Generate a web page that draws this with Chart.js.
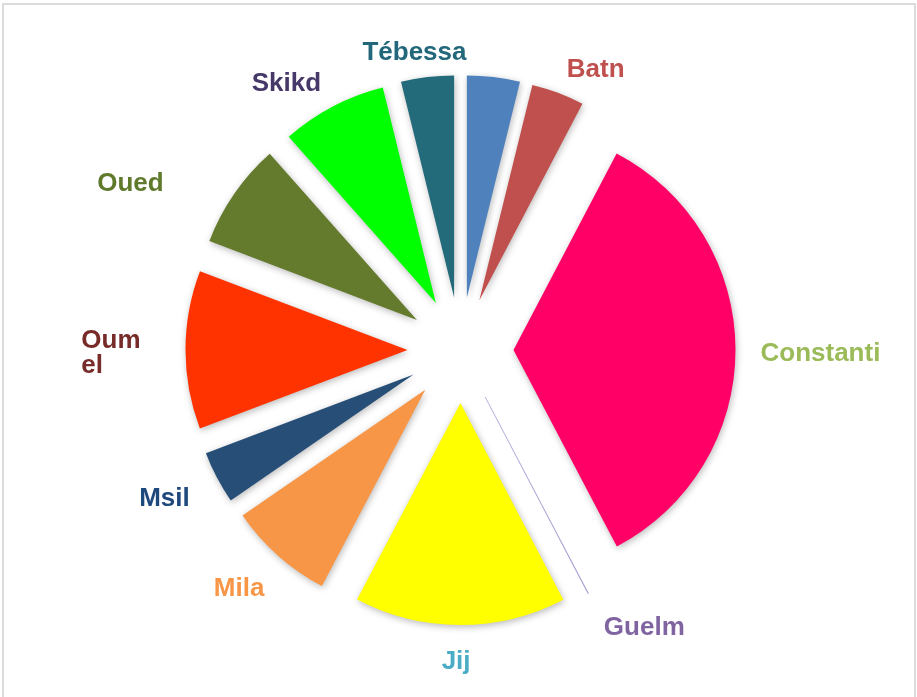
<!DOCTYPE html>
<html>
<head>
<meta charset="utf-8">
<script src="https://cdn.jsdelivr.net/npm/chart.js@4.4.1/dist/chart.umd.min.js"></script>
<style>
  html, body { margin: 0; padding: 0; background: #fff; }
  #wrap { width: 917px; height: 697px; }
</style>
</head>
<body>
<div id="wrap"><canvas id="myChart" width="917" height="697"></canvas></div>
<script>
// categories clockwise from 12 o'clock (first slice has no visible label)
const categories = ['', 'Batn', 'Constanti', 'Guelm', 'Jij', 'Mila', 'Msil', ['Oum', 'el'], 'Oued', 'Skikd', 'Tébessa'];
// counts (Guelm is a near-zero sliver)
const counts = [1, 1, 9, 0.01, 4, 2, 1, 3, 2, 2, 1];

const sliceColors = ['#4F81BD', '#C0504D', '#FF0066', '#8064A2', '#FFFF00', '#F79646',
    '#264E77', '#FF3300', '#647A2C', '#00FF00', '#236A7B'];
const labelColors = ['#4F81BD', '#C0504D', '#9BBB59', '#8064A2', '#4BACC6', '#F79646',
    '#1F497D', '#772C2A', '#5F7A2B', '#463869', '#22677A'];

// pulls every slice away from the centre and draws it with a soft shadow
const explodePlugin = {
    id: 'explode',
    beforeDraw(chart) {
        const ctx = chart.ctx;
        ctx.save();
        ctx.strokeStyle = '#dcdcdc';
        ctx.lineWidth = 2;
        ctx.strokeRect(3, 4, 912, 700);
        ctx.restore();
    },
    beforeDatasetDraw(chart, args, opts) {
        const ctx = chart.ctx;
        args.meta.data.forEach(arc => {
            const mid = (arc.startAngle + arc.endAngle) / 2;
            const thin = arc.circumference < 0.01;
            ctx.save();
            ctx.shadowColor = thin ? 'rgba(0,0,0,0)' : 'rgba(0,0,0,0.28)';
            ctx.shadowBlur = 7;
            ctx.shadowOffsetX = 1;
            ctx.shadowOffsetY = 2;
            ctx.translate(Math.cos(mid) * opts.distance, Math.sin(mid) * opts.distance);
            arc.draw(ctx);
            ctx.restore();
        });
        return false;
    },
    afterDatasetsDraw(chart, args, opts) {
        const ctx = chart.ctx;
        const meta = chart.getDatasetMeta(0);
        ctx.save();
        ctx.font = opts.font;
        ctx.textBaseline = 'middle';
        ctx.textAlign = 'left';
        meta.data.forEach((arc, i) => {
            let lines = chart.data.labels[i];
            if (!Array.isArray(lines)) lines = [lines];
            if (!lines[0]) return;
            const mid = (arc.startAngle + arc.endAngle) / 2;
            const ux = Math.cos(mid), uy = Math.sin(mid);
            const px = arc.x + ux * opts.radiusX, py = arc.y + uy * opts.radiusY;
            const w = Math.max(...lines.map(l => ctx.measureText(l).width));
            const h = lines.length * opts.lineHeight;
            const sx = Math.max(-1, Math.min(1, ux / 0.35));
            const sy = Math.max(-1, Math.min(1, uy / 0.35));
            const nudge = opts.nudge[i] || [0, 0];
            const cx = px + sx * w / 2 + nudge[0];
            const cy = py + sy * h / 2 + nudge[1] + opts.shiftY;
            ctx.fillStyle = labelColors[i];
            lines.forEach((l, k) => {
                ctx.fillText(l, cx - w / 2, cy - h / 2 + opts.lineHeight * (k + 0.5));
            });
        });
        ctx.restore();
    }
};

new Chart(document.getElementById('myChart').getContext('2d'), {
    type: 'pie',
    data: {
        labels: categories,
        datasets: [{
            data: counts,
            backgroundColor: sliceColors,
            borderColor: sliceColors.map((c, i) => i === 3 ? 'rgba(170,160,215,0.5)' : c),
            borderWidth: counts.map(v => v < 0.1 ? 1 : 0),
            radius: 222
        }]
    },
    options: {
        responsive: false,
        animation: false,
        layout: { padding: { left: 4, top: 3, right: 0, bottom: 0 } },
        plugins: {
            legend: { display: false },
            tooltip: { enabled: false },
            explode: {
                distance: 53,
                radiusX: 300,
                radiusY: 291,
                shiftY: 4,
                lineHeight: 25,
                font: 'bold 26px "Liberation Sans", Arial, sans-serif',
                nudge: { 3: [4, 4], 4: [-4, 4], 5: [3, 5], 6: [-5, -3], 7: [-20, 0], 8: [-50, 8], 10: [8, 0] }
            }
        }
    },
    plugins: [explodePlugin]
});
</script>
</body>
</html>
